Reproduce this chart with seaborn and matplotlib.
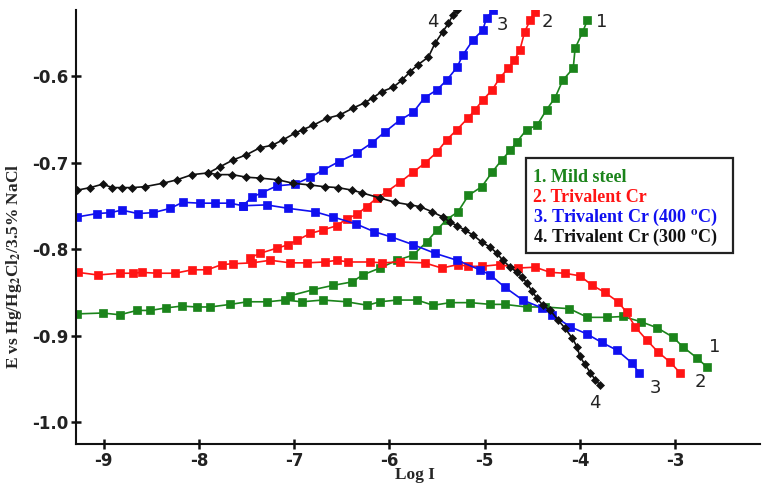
import matplotlib
matplotlib.use('Agg')
import matplotlib.pyplot as plt
import matplotlib.patches as patches
import pandas as pd
import seaborn as sns

# 1. Mild steel -- cathodic (lower) and anodic (upper) branches
ms_cat_logi = [-9.28, -9.01, -8.83, -8.65, -8.51, -8.34, -8.18, -8.02, -7.88, -7.67, -7.49, -7.28, -7.10,
               -6.92, -6.70, -6.45, -6.23, -6.10, -5.92, -5.71, -5.54, -5.36, -5.15, -4.94, -4.79, -4.56,
               -4.37, -4.11, -3.92, -3.72, -3.55, -3.36, -3.19, -3.02, -2.92, -2.77, -2.67]
ms_cat_e = [-0.875, -0.874, -0.876, -0.871, -0.871, -0.868, -0.866, -0.867, -0.867, -0.864, -0.861, -0.861,
            -0.859, -0.861, -0.859, -0.861, -0.865, -0.861, -0.859, -0.859, -0.865, -0.862, -0.862, -0.864,
            -0.864, -0.867, -0.867, -0.869, -0.879, -0.879, -0.878, -0.884, -0.891, -0.902, -0.913, -0.926,
            -0.936]
ms_ano_logi = [-7.04, -6.80, -6.59, -6.39, -6.28, -6.10, -5.92, -5.75, -5.61, -5.50, -5.40, -5.28, -5.17,
               -5.03, -4.92, -4.82, -4.73, -4.66, -4.56, -4.45, -4.35, -4.26, -4.18, -4.07, -4.05, -3.97, -3.92]
ms_ano_e = [-0.854, -0.847, -0.842, -0.838, -0.830, -0.822, -0.813, -0.807, -0.792, -0.778, -0.766, -0.757,
            -0.738, -0.728, -0.711, -0.697, -0.686, -0.676, -0.662, -0.657, -0.639, -0.625, -0.605, -0.591,
            -0.568, -0.549, -0.535]

# 2. Trivalent Cr
cr_cat_logi = [-9.27, -9.06, -8.83, -8.69, -8.60, -8.44, -8.25, -8.07, -7.91, -7.76, -7.64, -7.44, -7.25,
               -7.04, -6.87, -6.68, -6.55, -6.43, -6.20, -6.08, -5.89, -5.63, -5.45, -5.28, -5.17, -5.03,
               -4.84, -4.65, -4.47, -4.31, -4.16, -4.00, -3.87, -3.74, -3.60, -3.51, -3.42, -3.30, -3.18,
               -3.05, -2.95]
cr_cat_e = [-0.827, -0.830, -0.828, -0.828, -0.827, -0.828, -0.828, -0.824, -0.824, -0.818, -0.817, -0.816,
            -0.813, -0.816, -0.816, -0.815, -0.813, -0.815, -0.815, -0.816, -0.815, -0.816, -0.822, -0.818,
            -0.820, -0.820, -0.818, -0.822, -0.821, -0.827, -0.828, -0.831, -0.842, -0.850, -0.861, -0.873,
            -0.890, -0.905, -0.919, -0.931, -0.943]
cr_ano_logi = [-7.46, -7.36, -7.18, -7.06, -6.97, -6.83, -6.70, -6.55, -6.45, -6.34, -6.24, -6.13, -6.03,
               -5.89, -5.75, -5.63, -5.50, -5.40, -5.29, -5.17, -5.10, -5.02, -4.92, -4.84, -4.75, -4.69,
               -4.63, -4.58, -4.52, -4.47]
cr_ano_e = [-0.810, -0.805, -0.799, -0.795, -0.790, -0.782, -0.778, -0.773, -0.765, -0.760, -0.751, -0.741,
            -0.734, -0.723, -0.711, -0.701, -0.688, -0.674, -0.662, -0.648, -0.639, -0.628, -0.616, -0.602,
            -0.591, -0.582, -0.570, -0.549, -0.535, -0.526]

# 3. Trivalent Cr (400 oC)
cr400_cat_logi = [-9.28, -9.07, -8.93, -8.81, -8.64, -8.48, -8.30, -8.17, -7.99, -7.83, -7.67, -7.54, -7.29,
                  -7.06, -6.78, -6.59, -6.35, -6.16, -5.98, -5.75, -5.52, -5.29, -5.05, -4.94, -4.79, -4.60,
                  -4.40, -4.29, -4.10, -3.93, -3.77, -3.61, -3.45, -3.38]
cr400_cat_e = [-0.763, -0.759, -0.758, -0.755, -0.759, -0.758, -0.753, -0.746, -0.747, -0.747, -0.747, -0.750,
               -0.749, -0.753, -0.757, -0.763, -0.771, -0.780, -0.786, -0.795, -0.805, -0.813, -0.824, -0.830,
               -0.844, -0.859, -0.868, -0.876, -0.890, -0.898, -0.908, -0.917, -0.932, -0.943]
cr400_ano_logi = [-7.54, -7.44, -7.34, -7.18, -6.99, -6.83, -6.70, -6.53, -6.34, -6.18, -6.05, -5.89, -5.75,
                  -5.63, -5.50, -5.40, -5.29, -5.23, -5.12, -5.02, -4.98, -4.91]
cr400_ano_e = [-0.750, -0.740, -0.735, -0.727, -0.725, -0.717, -0.709, -0.699, -0.689, -0.677, -0.665, -0.651,
               -0.642, -0.625, -0.616, -0.605, -0.590, -0.576, -0.558, -0.547, -0.533, -0.524]

# 4. Trivalent Cr (300 oC)
cr300_cat_logi = [-9.28, -9.14, -9.01, -8.91, -8.81, -8.70, -8.57, -8.38, -8.23, -8.07, -7.90, -7.81, -7.65,
                  -7.50, -7.36, -7.17, -7.01, -6.83, -6.68, -6.54, -6.39, -6.29, -6.10, -5.94, -5.78, -5.68,
                  -5.55, -5.44, -5.36, -5.29, -5.21, -5.12, -5.03, -4.94, -4.87, -4.81, -4.73, -4.66, -4.61,
                  -4.56, -4.50, -4.45, -4.39, -4.31, -4.23, -4.16, -4.08, -4.03, -4.00, -3.95, -3.89, -3.84,
                  -3.79]
cr300_cat_e = [-0.732, -0.729, -0.725, -0.729, -0.729, -0.729, -0.728, -0.724, -0.720, -0.714, -0.712, -0.714,
               -0.714, -0.717, -0.718, -0.720, -0.724, -0.726, -0.728, -0.729, -0.732, -0.735, -0.741, -0.746,
               -0.749, -0.751, -0.757, -0.763, -0.769, -0.773, -0.778, -0.784, -0.792, -0.798, -0.805, -0.813,
               -0.821, -0.827, -0.832, -0.839, -0.849, -0.857, -0.865, -0.871, -0.882, -0.891, -0.903, -0.913,
               -0.924, -0.933, -0.943, -0.951, -0.957]
cr300_ano_logi = [-7.90, -7.78, -7.64, -7.50, -7.36, -7.23, -7.12, -6.99, -6.91, -6.80, -6.66, -6.52, -6.38,
                  -6.26, -6.17, -6.08, -5.96, -5.87, -5.78, -5.70, -5.59, -5.52, -5.44, -5.38, -5.33, -5.29]
cr300_ano_e = [-0.712, -0.705, -0.697, -0.691, -0.683, -0.680, -0.674, -0.666, -0.662, -0.657, -0.649, -0.645,
               -0.637, -0.631, -0.625, -0.618, -0.613, -0.605, -0.595, -0.587, -0.578, -0.562, -0.549, -0.539,
               -0.529, -0.524]

legend_labels = ['1. Mild steel', '2. Trivalent Cr',
                 '3. Trivalent Cr (400 $^{\\mathbf{o}}$C)', '4. Trivalent Cr (300 $^{\\mathbf{o}}$C)']
x_ticks = [-9, -8, -7, -6, -5, -4, -3]
y_ticks = [-1.0, -0.9, -0.8, -0.7, -0.6]

# curve number tags: (label, log I, E)
tags = [('4', -5.54, -0.538), ('3', -4.81, -0.541), ('2', -4.34, -0.538), ('1', -3.77, -0.538),
        ('1', -2.58, -0.913), ('2', -2.74, -0.954), ('3', -3.21, -0.961), ('4', -3.84, -0.978)]

curves = [('1', ms_cat_logi, ms_cat_e, ms_ano_logi, ms_ano_e),
          ('2', cr_cat_logi, cr_cat_e, cr_ano_logi, cr_ano_e),
          ('3', cr400_cat_logi, cr400_cat_e, cr400_ano_logi, cr400_ano_e),
          ('4', cr300_cat_logi, cr300_cat_e, cr300_ano_logi, cr300_ano_e)]

frames = []
for name, cx, ce, axx, ae in curves:
    frames.append(pd.DataFrame({'logi': cx, 'E': ce, 'curve': name, 'branch': name + 'c'}))
    frames.append(pd.DataFrame({'logi': axx, 'E': ae, 'curve': name, 'branch': name + 'a'}))
df = pd.concat(frames, ignore_index=True)

colors = {'1': '#1b841b', '2': '#ff1414', '3': '#1010f0', '4': '#111111'}
markers = {'1': 's', '2': 's', '3': 's', '4': 'D'}
msizes = {'1': 5.8, '2': 5.8, '3': 5.8, '4': 3.6}

sns.set_style('ticks')
plt.rcParams['axes.unicode_minus'] = False
plt.rcParams['mathtext.fontset'] = 'stix'
plt.rcParams['font.family'] = ['DejaVu Sans']

fig = plt.figure(figsize=(7.65, 4.88), dpi=100)
ax = fig.add_axes([76 / 765, 44 / 488, 684 / 765, 434 / 488])

for name in ['1', '2', '3', '4']:
    sub = df[df['curve'] == name]
    sns.lineplot(data=sub, x='logi', y='E', units='branch', estimator=None, sort=False,
                 color=colors[name], marker=markers[name], markersize=msizes[name],
                 markeredgecolor=colors[name], markeredgewidth=0.5, linewidth=1.2,
                 legend=False, ax=ax)

ax.set_xlim(-9.29, -2.109)
ax.set_ylim(-1.0254, -0.5237)
ax.set_xticks(x_ticks)
ax.set_xticklabels([str(t) for t in x_ticks])
ax.set_yticks(y_ticks)
ax.set_yticklabels(['%.1f' % t for t in y_ticks])
sns.despine(ax=ax)
for s in ['left', 'bottom']:
    ax.spines[s].set_linewidth(1.5)
    ax.spines[s].set_color('#111111')
ax.tick_params(direction='inout', length=7, width=1.8, colors='#111111', labelsize=12, pad=2)
for lab in ax.get_xticklabels() + ax.get_yticklabels():
    lab.set_fontweight('bold')
    lab.set_color('#222222')

serif = ['Liberation Serif', 'DejaVu Serif']
ax.set_xlabel('Log I', family=serif, fontweight='bold', fontsize=12.5)
ax.xaxis.set_label_coords(0.496, -0.054)
ax.set_ylabel('E vs Hg/Hg$_\\mathbf{2}$Cl$_\\mathbf{2}$/3.5% NaCl', family=serif,
              fontweight='bold', fontsize=12.5)
ax.yaxis.set_label_coords(-0.076, 0.41)

for t, x, y in tags:
    ax.text(x, y, t, fontsize=13, color='#222222', ha='center', va='center')

# legend box drawn as text lines inside a frame
ax.add_patch(patches.Rectangle((0.658, 0.440), 0.3025, 0.219, transform=ax.transAxes,
                               facecolor='white', edgecolor='#222222', linewidth=1.6, zorder=5))
leg_y = [0.613, 0.567, 0.521, 0.477]
for lab, y, name in zip(legend_labels, leg_y, ['1', '2', '3', '4']):
    ax.text(0.668, y, lab, transform=ax.transAxes, family=serif, fontweight='bold', fontsize=13,
            color=colors[name], va='center', ha='left', zorder=6)

fig.savefig('out.png', dpi=100)
